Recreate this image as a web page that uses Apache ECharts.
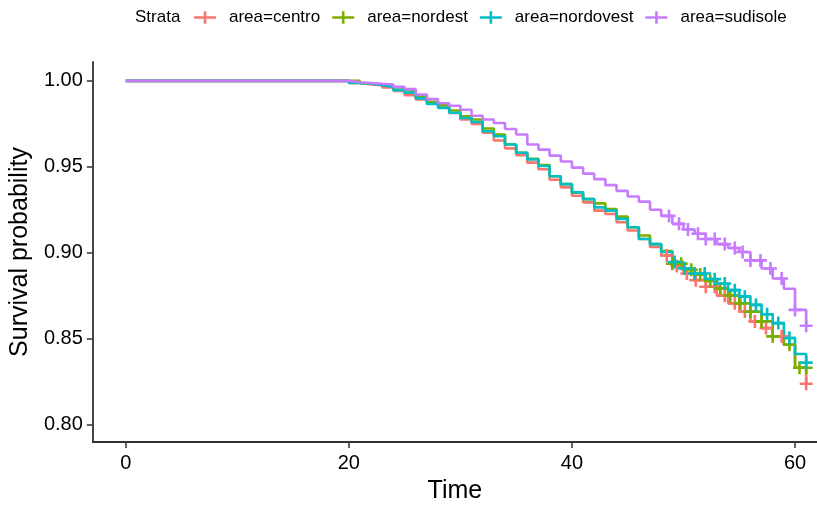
<!DOCTYPE html>
<html><head><meta charset="utf-8">
<script src="https://cdn.jsdelivr.net/npm/echarts@6/dist/echarts.min.js"></script>
<style>html,body{margin:0;padding:0;background:#fff}#c{width:817px;height:509px}</style>
</head><body><div id="c"></div>
<script>
// ---- data ----
const strata = ['area=centro', 'area=nordest', 'area=nordovest', 'area=sudisole'];
const colors = ['#F8766D', '#7CAE00', '#00BFC4', '#C77CFF'];
const times = [0, 20, 21, 22, 23, 24, 25, 26, 27, 28, 29, 30, 31, 32, 33, 34, 35, 36, 37, 38, 39, 40,
  41, 42, 43, 44, 45, 46, 47, 48, 49, 50, 51, 52, 53, 54, 55, 56, 57, 58, 59, 60, 61];
const centro = [1.0,
  0.9988, 0.9980, 0.9975, 0.9962, 0.9942, 0.9917, 0.9892, 0.9875, 0.9850, 0.9813,
  0.9775, 0.9750, 0.9698, 0.9653, 0.9607, 0.9568, 0.9524, 0.9486, 0.9425, 0.9380,
  0.9331, 0.9293, 0.9245, 0.9225, 0.9177, 0.9129, 0.9080, 0.9033, 0.8984, 0.8923,
  0.8879, 0.8840, 0.8802, 0.8750, 0.8705, 0.8657, 0.8600, 0.8561, 0.8514, 0.8464,
  0.8330, 0.8237];
const nordest = [1.0,
  1.0000, 0.9985, 0.9980, 0.9975, 0.9950, 0.9940, 0.9911, 0.9879, 0.9860, 0.9828,
  0.9794, 0.9775, 0.9723, 0.9688, 0.9630, 0.9582, 0.9547, 0.9510, 0.9445, 0.9399,
  0.9351, 0.9312, 0.9287, 0.9254, 0.9210, 0.9148, 0.9100, 0.9050, 0.9010, 0.8936,
  0.8900, 0.8873, 0.8835, 0.8792, 0.8750, 0.8705, 0.8657, 0.8600, 0.8513, 0.8464,
  0.8330, 0.8330];
const nordovest = [1.0,
  0.9988, 0.9985, 0.9975, 0.9965, 0.9946, 0.9932, 0.9898, 0.9866, 0.9843, 0.9815,
  0.9784, 0.9761, 0.9707, 0.9678, 0.9630, 0.9582, 0.9543, 0.9505, 0.9445, 0.9399,
  0.9351, 0.9312, 0.9264, 0.9245, 0.9197, 0.9148, 0.9080, 0.9050, 0.9004, 0.8946,
  0.8908, 0.8879, 0.8846, 0.8821, 0.8782, 0.8744, 0.8696, 0.8642, 0.8590, 0.8503,
  0.8410, 0.8360];
const sudisole = [1.0,
  0.9992, 0.9988, 0.9983, 0.9979, 0.9965, 0.9952, 0.9921, 0.9894, 0.9870, 0.9855,
  0.9832, 0.9797, 0.9775, 0.9755, 0.9720, 0.9688, 0.9630, 0.9600, 0.9565, 0.9531,
  0.9495, 0.9460, 0.9428, 0.9393, 0.9360, 0.9327, 0.9297, 0.9250, 0.9214, 0.9168,
  0.9135, 0.9110, 0.9080, 0.9050, 0.9027, 0.9004, 0.8955, 0.8908, 0.8850, 0.8790,
  0.8667, 0.8575];
// censoring times ("+" marks)
const censorCentro = [48.5, 49.4, 50.3, 51.1, 52.0, 52.8, 53.7, 54.6, 55.5, 56.4, 57.4, 58.8, 61.0];
const censorNordest = [49.0, 49.8, 50.7, 51.5, 52.4, 53.3, 54.2, 55.1, 56.0, 57.0, 58.0, 59.5, 60.4, 61.0];
const censorNordovest = [49.2, 50.1, 51.0, 51.9, 52.8, 53.7, 54.6, 55.5, 56.5, 57.5, 58.5, 59.5, 61.0];
const censorSudisole = [48.7, 49.6, 50.4, 51.3, 52.0, 52.8, 53.7, 54.6, 55.3, 56.0, 56.9, 57.8, 58.8, 60.0, 61.0];
const xTicks = [0, 20, 40, 60];
const yTicks = [0.80, 0.85, 0.90, 0.95, 1.00];

// ---- build ----
const survival = [centro, nordest, nordovest, sudisole];
const censors = [censorCentro, censorNordest, censorNordovest, censorSudisole];
function stepAt(vals, t) {
  let v = vals[0];
  for (let i = 0; i < times.length; i++) { if (times[i] <= t) v = vals[i]; }
  return v;
}
const plusSym = 'path://M0,5.2H13V7.8H0Z M5.2,0H7.8V13H5.2Z';
const legendIcon = 'path://M0,5H22V7.6H0Z M9.7,0H12.3V12.6H9.7Z';
const series = [];
survival.forEach((vals, i) => {
  series.push({
    name: strata[i], type: 'line', step: 'end', showSymbol: false, symbol: 'none',
    data: times.map((t, j) => [t, vals[j]]),
    lineStyle: { color: colors[i], width: 2.6 }, itemStyle: { color: colors[i] },
    z: 2 + i
  });
});
censors.forEach((cs, i) => {
  series.push({
    name: strata[i], type: 'scatter', symbol: plusSym, symbolSize: 13,
    data: cs.map(t => [t, stepAt(survival[i], t)]),
    itemStyle: { color: colors[i], opacity: 1 }, z: 10 + i
  });
});
const chart = echarts.init(document.getElementById('c'), null, { renderer: 'canvas' });
const font = 'Liberation Sans, Arial, sans-serif';
chart.setOption({
  animation: false,
  backgroundColor: '#fff',
  textStyle: { fontFamily: font },
  grid: { left: 91, right: 0, top: 62, bottom: 64, containLabel: false },
  legend: {
    data: strata.map((n, i) => ({ name: n, icon: legendIcon, itemStyle: { color: colors[i] } })),
    left: 194, top: 9, padding: 0, itemWidth: 22, itemHeight: 13, itemGap: 12,
    textStyle: { fontSize: 17, color: '#000', fontFamily: font, padding: [0, 0, 0, 8] },
    selectedMode: false
  },
  graphic: [{
    type: 'text', left: 135, top: 9,
    style: { text: 'Strata', fontSize: 17, fill: '#000', fontFamily: font }
  }],
  xAxis: {
    type: 'value', min: -2.95, max: 61.97,
    name: 'Time', nameLocation: 'middle', nameGap: 37,
    nameTextStyle: { fontSize: 25, color: '#000', fontFamily: font },
    axisLine: { onZero: false, lineStyle: { color: '#333', width: 1.8 } },
    axisTick: { show: true, length: 6, customValues: xTicks, lineStyle: { color: '#333', width: 1.5 } },
    axisLabel: { customValues: xTicks, fontSize: 20, color: '#000', margin: 11, fontFamily: font },
    splitLine: { show: false }
  },
  yAxis: {
    type: 'value', min: 0.7898, max: 1.011,
    name: 'Survival probability', nameLocation: 'middle', nameGap: 53,
    nameTextStyle: { fontSize: 25, color: '#000', fontFamily: font },
    axisLine: { show: true, onZero: false, lineStyle: { color: '#333', width: 1.8 } },
    axisTick: { show: true, length: 6, customValues: yTicks, lineStyle: { color: '#333', width: 1.5 } },
    axisLabel: { customValues: yTicks, fontSize: 20, color: '#000', margin: 10, fontFamily: font,
      formatter: v => v.toFixed(2) },
    splitLine: { show: false }
  },
  series: series
});
</script></body></html>
